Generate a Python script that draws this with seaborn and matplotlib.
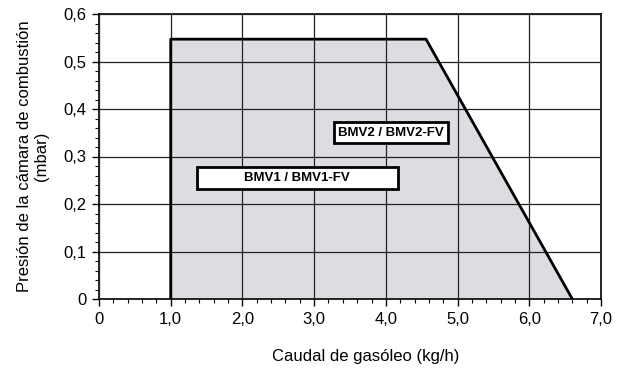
import matplotlib
matplotlib.use("Agg")
import matplotlib.pyplot as plt
import numpy as np
import pandas as pd
import seaborn as sns
from matplotlib.patches import Rectangle
from matplotlib.ticker import MultipleLocator

# working range outline (kg/h, mbar)
caudal = [1.0, 1.0, 4.56, 6.6]
presion = [0.0, 0.547, 0.547, 0.0]

x_ticks = [0, 1, 2, 3, 4, 5, 6, 7]
x_labels = ["0", "1,0", "2,0", "3,0", "4,0", "5,0", "6,0", "7,0"]
y_ticks = [0, 0.1, 0.2, 0.3, 0.4, 0.5, 0.6]
y_labels = ["0", "0,1", "0,2", "0,3", "0,4", "0,5", "0,6"]

sns.set_theme(style="white")
plt.rcParams["font.family"] = ["Liberation Sans", "DejaVu Sans"]
plt.rcParams["text.color"] = "black"
plt.rcParams["axes.labelcolor"] = "black"
plt.rcParams["xtick.color"] = "black"
plt.rcParams["ytick.color"] = "black"

fig = plt.figure(figsize=(6.38, 3.71), dpi=100)
ax = fig.add_axes([99 / 638, 1 - 299 / 371, 502 / 638, 285 / 371])

df = pd.DataFrame({"caudal": caudal, "presion": presion})
ax.fill(df["caudal"], df["presion"], color="#dcdde0", zorder=1, lw=0)
sns.lineplot(data=df, x="caudal", y="presion", sort=False, estimator=None,
             color="black", lw=2, ax=ax, zorder=3)

ax.set_xlim(0, 7)
ax.set_ylim(0, 0.6)
ax.set_xticks(x_ticks)
ax.set_xticklabels(x_labels)
ax.set_yticks(y_ticks)
ax.set_yticklabels(y_labels)
ax.xaxis.set_minor_locator(MultipleLocator(0.2))
ax.yaxis.set_minor_locator(MultipleLocator(0.02))
ax.tick_params(which="major", direction="out", length=5, width=1, color="black",
               labelcolor="black", labelsize=12, pad=4, left=True, bottom=True)
ax.tick_params(which="minor", direction="out", length=3, width=0.8, color="black",
               left=True, bottom=True)
ax.grid(True, which="major", color="#222222", lw=0.9)
ax.set_axisbelow(False)
for s in ax.spines.values():
    s.set_color("black")
    s.set_linewidth(1.2)

ax.set_xlabel("Caudal de gasóleo (kg/h)", fontsize=12, color="black")
ax.xaxis.set_label_coords(0.532, -0.175)
ax.set_ylabel("Presión de la cámara de combustión\n(mbar)", fontsize=12,
              labelpad=10, color="black")

# model labels
for cx, cy, w, h, txt in [(2.765, 0.255, 2.8, 0.046, "BMV1 / BMV1-FV"),
                          (4.07, 0.35, 1.6, 0.044, "BMV2 / BMV2-FV")]:
    ax.add_patch(Rectangle((cx - w / 2, cy - h / 2), w, h, facecolor="white",
                           edgecolor="black", lw=2, zorder=4))
    ax.text(cx, cy, txt, ha="center", va="center", fontsize=9.5,
            fontweight="bold", color="black", zorder=5)

fig.savefig("out.png", dpi=100)
